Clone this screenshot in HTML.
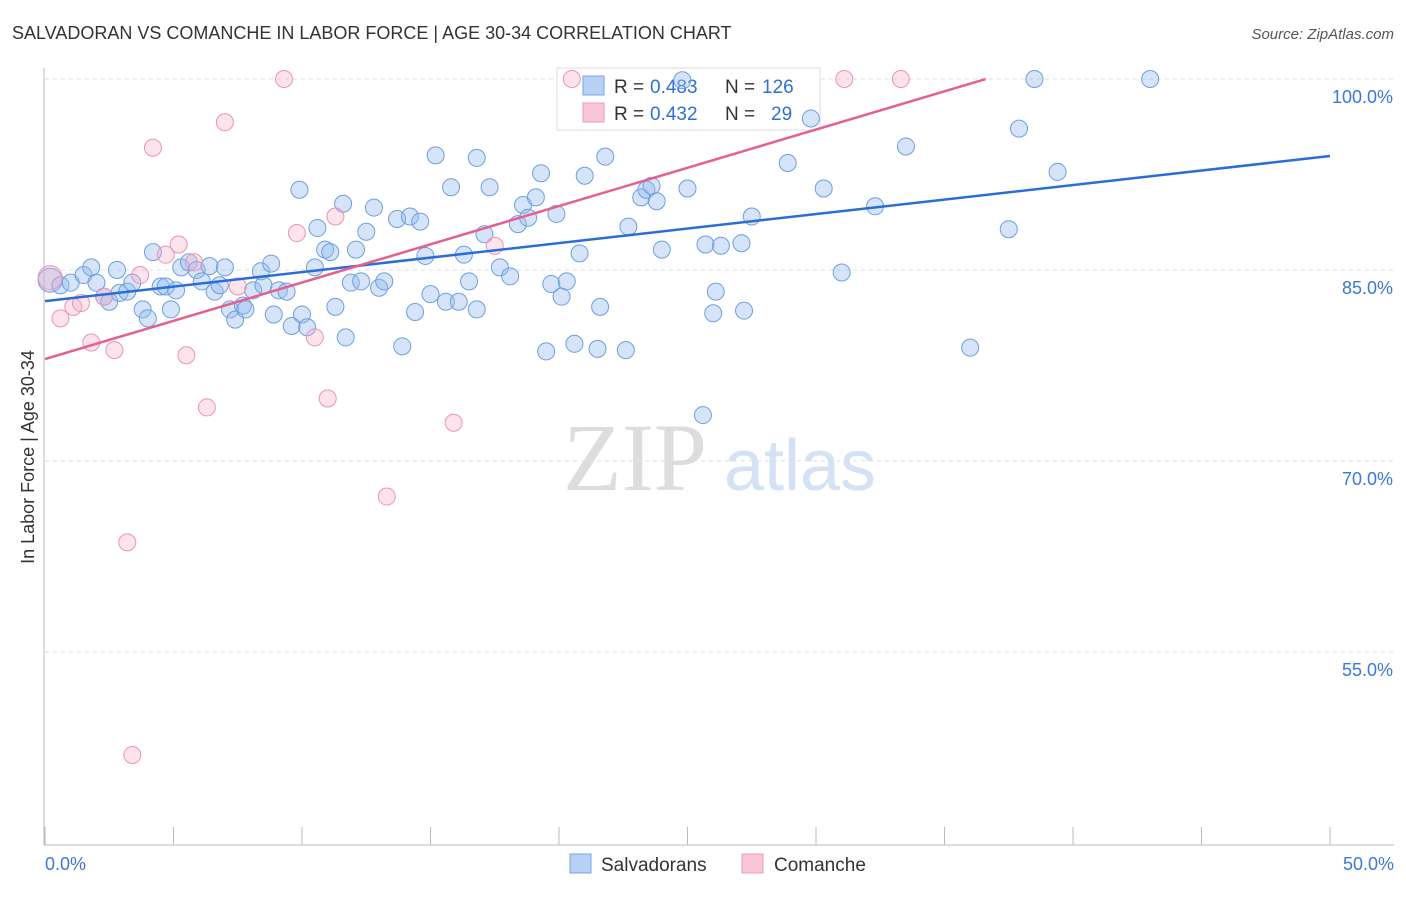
<!DOCTYPE html>
<html><head><meta charset="utf-8"><style>
body{margin:0;background:#fff;font-family:"Liberation Sans",sans-serif;}
</style></head><body>
<svg width="1406" height="892" xmlns="http://www.w3.org/2000/svg">
<text x="12" y="39" font-size="18" fill="#333">SALVADORAN VS COMANCHE IN LABOR FORCE | AGE 30-34 CORRELATION CHART</text>
<text x="1394" y="39" font-size="15" fill="#555" font-style="italic" text-anchor="end">Source: ZipAtlas.com</text>
<text x="635" y="490" font-size="96" fill="#ddd" font-family="Liberation Serif,serif" text-anchor="middle">ZIP</text>
<text x="800" y="490" font-size="72" fill="#d4e2f4" text-anchor="middle">atlas</text>
<g id="grid"></g>
<g id="axes"></g>
<g>
<rect x="557" y="68" width="263" height="62" fill="#fff" stroke="#ddd"/>
<rect x="583" y="76" width="21" height="19" fill="#b7d0f3" stroke="#7aa6e0"/>
<rect x="583" y="103" width="21" height="19" fill="#f8c6d6" stroke="#ee9bb7"/>
<text x="614" y="93" font-size="19" fill="#333">R =</text>
<text x="650" y="93" font-size="19" fill="#2f6fd6">0.483</text>
<text x="725" y="93" font-size="19" fill="#333">N =</text>
<text x="762" y="93" font-size="19" fill="#2f6fd6">126</text>
<text x="614" y="120" font-size="19" fill="#333">R =</text>
<text x="650" y="120" font-size="19" fill="#2f6fd6">0.432</text>
<text x="725" y="120" font-size="19" fill="#333">N =</text>
<text x="771" y="120" font-size="19" fill="#2f6fd6">29</text>
</g>
<g id="marks"></g>
<text transform="translate(34,457) rotate(-90)" font-size="18" fill="#333" text-anchor="middle">In Labor Force | Age 30-34</text>
<g>
<rect x="570" y="854" width="21" height="19" fill="#b7d0f3" stroke="#7aa6e0"/>
<text x="601" y="871" font-size="19" fill="#333">Salvadorans</text>
<rect x="742" y="854" width="21" height="19" fill="#f8c6d6" stroke="#ee9bb7"/>
<text x="774" y="871" font-size="19" fill="#333">Comanche</text>
</g>
</svg>
<script>
const yTicks=[100,85,70,55];
const yTickLabels=["100.0%","85.0%","70.0%","55.0%"];
const xTickLabels=["0.0%","50.0%"];
const blueX=[0.2,0.6,1.0,1.5,1.8,2.0,2.3,2.5,2.8,2.9,3.2,3.4,3.8,4.0,4.2,4.5,4.7,4.9,5.1,5.3,5.6,5.9,6.1,6.4,6.6,6.8,7.0,7.2,7.4,7.7,7.8,8.1,8.4,8.5,8.8,8.9,9.1,9.4,9.6,9.9,10.0,10.2,10.5,10.6,10.9,11.1,11.3,11.6,11.7,11.9,12.1,12.3,12.5,12.8,13.0,13.2,13.7,13.9,14.2,14.4,14.6,14.8,15.0,15.2,15.6,15.8,16.1,16.3,16.5,16.8,16.8,17.1,17.3,17.7,18.1,18.4,18.6,18.8,19.1,19.3,19.5,19.7,19.9,20.1,20.3,20.6,20.8,21.0,21.5,21.6,21.8,22.6,22.7,23.2,23.4,23.6,23.8,24.0,24.8,25.0,25.6,25.7,26.0,26.1,26.3,27.1,27.2,27.5,28.9,29.8,30.3,31.0,32.3,33.5,36.0,37.5,37.9,38.5,39.4,43.0];
const blueY=[84.2,83.8,84.0,84.6,85.2,84.0,82.9,82.5,85.0,83.2,83.3,84.0,81.9,81.2,86.4,83.7,83.7,81.9,83.4,85.2,85.6,85.0,84.1,85.3,83.3,83.8,85.2,81.9,81.1,82.2,81.9,83.4,84.9,83.8,85.5,81.5,83.4,83.3,80.6,91.3,81.5,80.5,85.2,88.3,86.6,86.4,82.1,90.2,79.7,84.0,86.6,84.1,88.0,89.9,83.6,84.1,89.0,79.0,89.2,81.7,88.8,86.1,83.1,94.0,82.5,91.5,82.5,86.2,84.1,81.9,93.8,87.8,91.5,85.2,84.5,88.6,90.1,89.1,90.7,92.6,78.6,83.9,89.4,82.9,84.1,79.2,86.3,92.4,78.8,82.1,93.9,78.7,88.4,90.7,91.3,91.6,90.4,86.6,99.9,91.4,73.6,87.0,81.6,83.3,86.9,87.1,81.8,89.2,93.4,96.9,91.4,84.8,90.0,94.7,78.9,88.2,96.1,100.0,92.7,100.0];
const pinkX=[0.2,0.6,1.1,1.4,1.8,2.3,2.7,3.2,3.4,3.7,4.2,4.7,5.2,5.5,5.8,6.3,7.0,7.5,9.3,9.8,10.5,11.0,11.3,13.3,15.9,17.5,20.5,31.1,33.3];
const pinkY=[84.4,81.2,82.1,82.4,79.3,82.9,78.7,63.6,46.9,84.6,94.6,86.2,87.0,78.3,85.6,74.2,96.6,83.7,100,87.9,79.7,74.9,89.2,67.2,73.0,86.9,100,100,100];
const blueLine=[82.55,93.95];
const pinkLine=[78.0,108.05];
const NS="http://www.w3.org/2000/svg";
const X=v=>45+v*25.7, Y=v=>79+(100-v)*12.73;
function mk(t,a,p){const e=document.createElementNS(NS,t);for(const k in a)e.setAttribute(k,a[k]);p.appendChild(e);return e;}
const grid=document.getElementById('grid'),axes=document.getElementById('axes'),marks=document.getElementById('marks');
yTicks.forEach((t,i)=>{
 const l=mk('line',{x1:45,x2:1394,y1:Y(t),y2:Y(t),stroke:'#ddd','stroke-dasharray':'4,4'},grid);
 
 
 const tx=mk('text',{x:1393,y:Y(t)+24,'font-size':18,fill:'#3b78d8','text-anchor':'end'},grid);
 tx.textContent=yTickLabels[i];
 
 
});
mk('line',{x1:44,x2:44,y1:68,y2:845,stroke:'#bbb'},axes);
mk('line',{x1:44,x2:1394,y1:845,y2:845,stroke:'#bbb'},axes);
for(let i=0;i<=10;i++){mk('line',{x1:X(i*5),x2:X(i*5),y1:827,y2:845,stroke:'#bbb'},axes);}
[[0,'start',45],[50,'end',1394]].forEach((d,i)=>{const t=mk('text',{x:d[2],y:870,'font-size':18,fill:'#3b78d8','text-anchor':d[1]},axes);t.textContent=xTickLabels[i];
 
 });
blueX.forEach((x,i)=>{const c=mk('circle',{cx:X(x),cy:Y(blueY[i]),r:i==0?12:8.5,fill:'rgba(150,188,238,0.4)',stroke:'#6d9fe0','stroke-width':1},marks);
 
 });
pinkX.forEach((x,i)=>{const c=mk('circle',{cx:X(x),cy:Y(pinkY[i]),r:i==0?12:8.5,fill:'rgba(245,175,200,0.35)',stroke:'#ec93b3','stroke-width':1},marks);
 
 });
const bl=mk('line',{x1:X(0),y1:Y(blueLine[0]),x2:X(50),y2:Y(blueLine[1]),stroke:'#2a6dd6','stroke-width':2.5},marks);


const pend=36.6;
const pl=mk('line',{x1:X(0),y1:Y(pinkLine[0]),x2:X(pend),y2:Y(pinkLine[0]+(pinkLine[1]-pinkLine[0])*pend/50),stroke:'#e5608e','stroke-width':2.5},marks);


</script>
</body></html>
